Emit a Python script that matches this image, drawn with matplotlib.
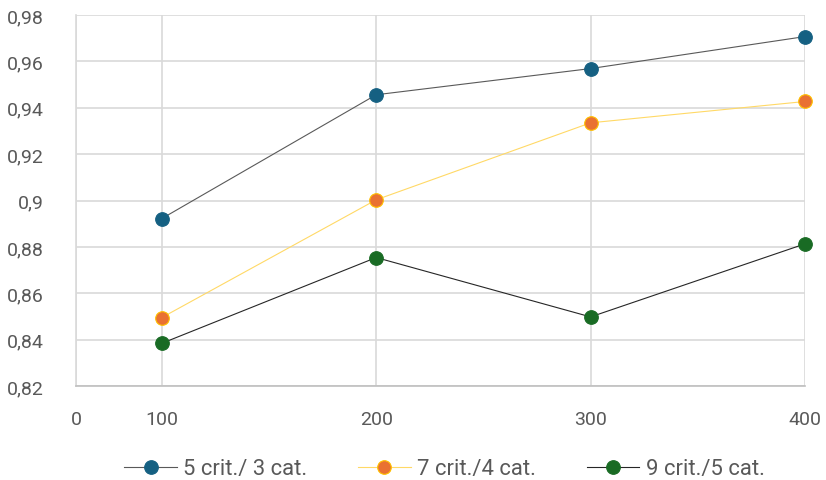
import matplotlib
matplotlib.use("Agg")
import matplotlib.pyplot as plt
from matplotlib.ticker import FuncFormatter, FixedLocator

# Sample sizes and accuracy for each criteria/category configuration
sample_sizes = [100, 200, 300, 400]
crit5_cat3 = [0.8922, 0.9456, 0.9569, 0.9707]
crit7_cat4 = [0.8495, 0.9003, 0.9335, 0.9427]
crit9_cat5 = [0.8384, 0.8754, 0.8498, 0.8813]

series_labels = ["5 crit./ 3 cat.", "7 crit./4 cat.", "9 crit./5 cat."]
x_tick_labels = ["0", "100", "200", "300", "400"]
y_ticks = [0.82, 0.84, 0.86, 0.88, 0.90, 0.92, 0.94, 0.96, 0.98]

plt.rcParams["font.family"] = ["Roboto", "DejaVu Sans"]
text_color = "#595959"
grid_color = "#D9D9D9"

fig = plt.figure(figsize=(8.26, 4.81), dpi=100)
ax = fig.add_axes([76 / 826, 1 - 387 / 481, (805 - 76) / 826, (387 - 16) / 481])

styles = [
    dict(color="#595959", mfc="#156082", mec="#156082"),
    dict(color="#FFD966", mfc="#E97132", mec="#FFC000"),
    dict(color="#262626", mfc="#196B24", mec="#196B24"),
]
for values, label, st in zip([crit5_cat3, crit7_cat4, crit9_cat5], series_labels, styles):
    ax.plot(sample_sizes, values, color=st["color"], lw=0.8, marker="o",
            markersize=9.8, markerfacecolor=st["mfc"], markeredgecolor=st["mec"],
            markeredgewidth=0.8, label=label, zorder=3, clip_on=False)

ax.set_xlim(60, 400)
ax.set_ylim(0.82, 0.98)

ax.xaxis.set_major_locator(FixedLocator([60] + sample_sizes))
ax.set_xticklabels(x_tick_labels)
ax.yaxis.set_major_locator(FixedLocator(y_ticks))
ax.yaxis.set_major_formatter(FuncFormatter(lambda v, _: f"{round(v, 2):g}".replace(".", ",")))

ax.grid(True, color=grid_color, lw=1.2, zorder=0)
ax.set_axisbelow(True)
for side in ["top", "right"]:
    ax.spines[side].set_visible(False)
ax.spines["left"].set_color(grid_color)
ax.spines["left"].set_linewidth(1.2)
ax.spines["bottom"].set_color("#BFBFBF")
ax.spines["bottom"].set_linewidth(1.2)

ax.tick_params(axis="both", length=0, labelsize=14, labelcolor=text_color)
ax.tick_params(axis="y", pad=23)
ax.tick_params(axis="x", pad=17)

leg = fig.legend(loc="center", bbox_to_anchor=(444.5 / 826, 1 - 470 / 481), ncol=3,
                 frameon=False, fontsize=15.8, handlelength=2.4, handletextpad=0.3,
                 columnspacing=2.3, numpoints=1)
for t in leg.get_texts():
    t.set_color(text_color)

fig.savefig("out.png", dpi=100)
